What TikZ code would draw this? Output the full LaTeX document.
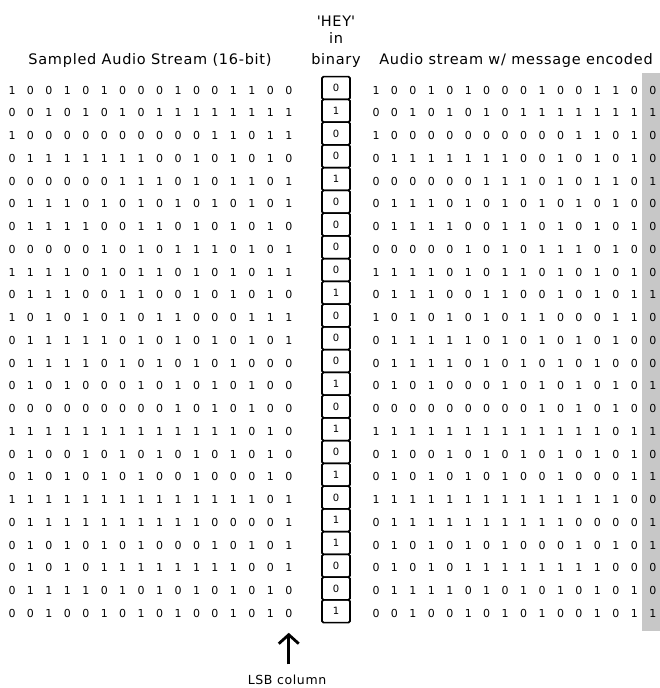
\documentclass[tikz,border=0pt]{standalone}
\usepackage{fontspec}
\setmainfont{DejaVu Sans}
\usetikzlibrary{arrows.meta}

\begin{document}
\begin{tikzpicture}[x=1pt,y=-1pt,line width=0.8pt,
  bit/.style={inner sep=1pt,font=\fontsize{11}{12}\selectfont},
  msgcell/.style={draw,line width=1.7pt,rounded corners=1.5pt,minimum width=28pt,
    minimum height=22.75pt,inner sep=0pt,font=\fontsize{10}{12}\selectfont},
  heading/.style={anchor=base,inner sep=0pt,
    font=\fontsize{14.5}{16}\selectfont\addfontfeature{LetterSpace=5}},
  >={Straight Barb[length=9pt,width=20pt]}]
  \useasboundingbox (0,0) rectangle (660,688);
  % columna gris: bits del mensaje en la copia
  \fill[black!22] (642,73) rectangle (660,631);
  % titulos
  \node[heading] (tleft) at (150,64) {Sampled Audio Stream (16-bit)};
  \node[heading] (tright) at (516,64) {Audio stream w/ message encoded};
  \node[heading] (hey) at (336,26) {\textquotesingle HEY\textquotesingle};
  \node[heading] (hin) at (336,43) {in};
  \node[heading] (hbin) at (336,64) {binary};
  % muestras / bit del mensaje por fila
  \foreach \row/\m [count=\ri] in {
    {1,0,0,1,0,1,0,0,0,1,0,0,1,1,0,0}/0,
    {0,0,1,0,1,0,1,0,1,1,1,1,1,1,1,1}/1,
    {1,0,0,0,0,0,0,0,0,0,0,1,1,0,1,1}/0,
    {0,1,1,1,1,1,1,1,0,0,1,0,1,0,1,0}/0,
    {0,0,0,0,0,0,1,1,1,0,1,0,1,1,0,1}/1,
    {0,1,1,1,0,1,0,1,0,1,0,1,0,1,0,1}/0,
    {0,1,1,1,1,0,0,1,1,0,1,0,1,0,1,0}/0,
    {0,0,0,0,0,1,0,1,0,1,1,1,0,1,0,1}/0,
    {1,1,1,1,0,1,0,1,1,0,1,0,1,0,1,1}/0,
    {0,1,1,1,0,0,1,1,0,0,1,0,1,0,1,0}/1,
    {1,0,1,0,1,0,1,0,1,1,0,0,0,1,1,1}/0,
    {0,1,1,1,1,1,0,1,0,1,0,1,0,1,0,1}/0,
    {0,1,1,1,1,0,1,0,1,0,1,0,1,0,0,0}/0,
    {0,1,0,1,0,0,0,1,0,1,0,1,0,1,0,0}/1,
    {0,0,0,0,0,0,0,0,0,1,0,1,0,1,0,0}/0,
    {1,1,1,1,1,1,1,1,1,1,1,1,1,0,1,0}/1,
    {0,1,0,0,1,0,1,0,1,0,1,0,1,0,1,0}/0,
    {0,1,0,1,0,1,0,1,0,0,1,0,0,0,1,0}/1,
    {1,1,1,1,1,1,1,1,1,1,1,1,1,1,0,1}/0,
    {0,1,1,1,1,1,1,1,1,1,1,0,0,0,0,1}/1,
    {0,1,0,1,0,1,0,1,0,0,0,1,0,1,0,1}/1,
    {0,1,0,1,0,1,1,1,1,1,1,1,1,0,0,1}/0,
    {0,1,1,1,1,0,1,0,1,0,1,0,1,0,1,0}/0,
    {0,0,1,0,0,1,0,1,0,1,0,0,1,0,1,0}/1}{
    \pgfmathsetmacro\yy{90+(\ri-1)*22.75}
    \foreach \b [count=\ci] in \row {
      \node[bit] (L-\ri-\ci) at ({12+(\ci-1)*18.45},\yy) {\b};
      \ifnum\ci<16 \node[bit] (R-\ri-\ci) at ({376+(\ci-1)*18.45},\yy) {\b};\fi
    }
    \node[bit] (R-\ri-16) at (652.75,\yy) {\m};
    \node[msgcell] (M-\ri) at (336,{\yy-2}) {\m};
  }
  % flecha al bit menos significativo
  \node[font=\fontsize{12.5}{14}\selectfont\addfontfeature{LetterSpace=5}] (lsb) at (287,680) {LSB column};
  \draw[->,line width=2.8pt,shorten <=7pt,shorten >=14pt] (lsb.north -| L-24-16) -- (L-24-16.south);
\end{tikzpicture}
\end{document}
